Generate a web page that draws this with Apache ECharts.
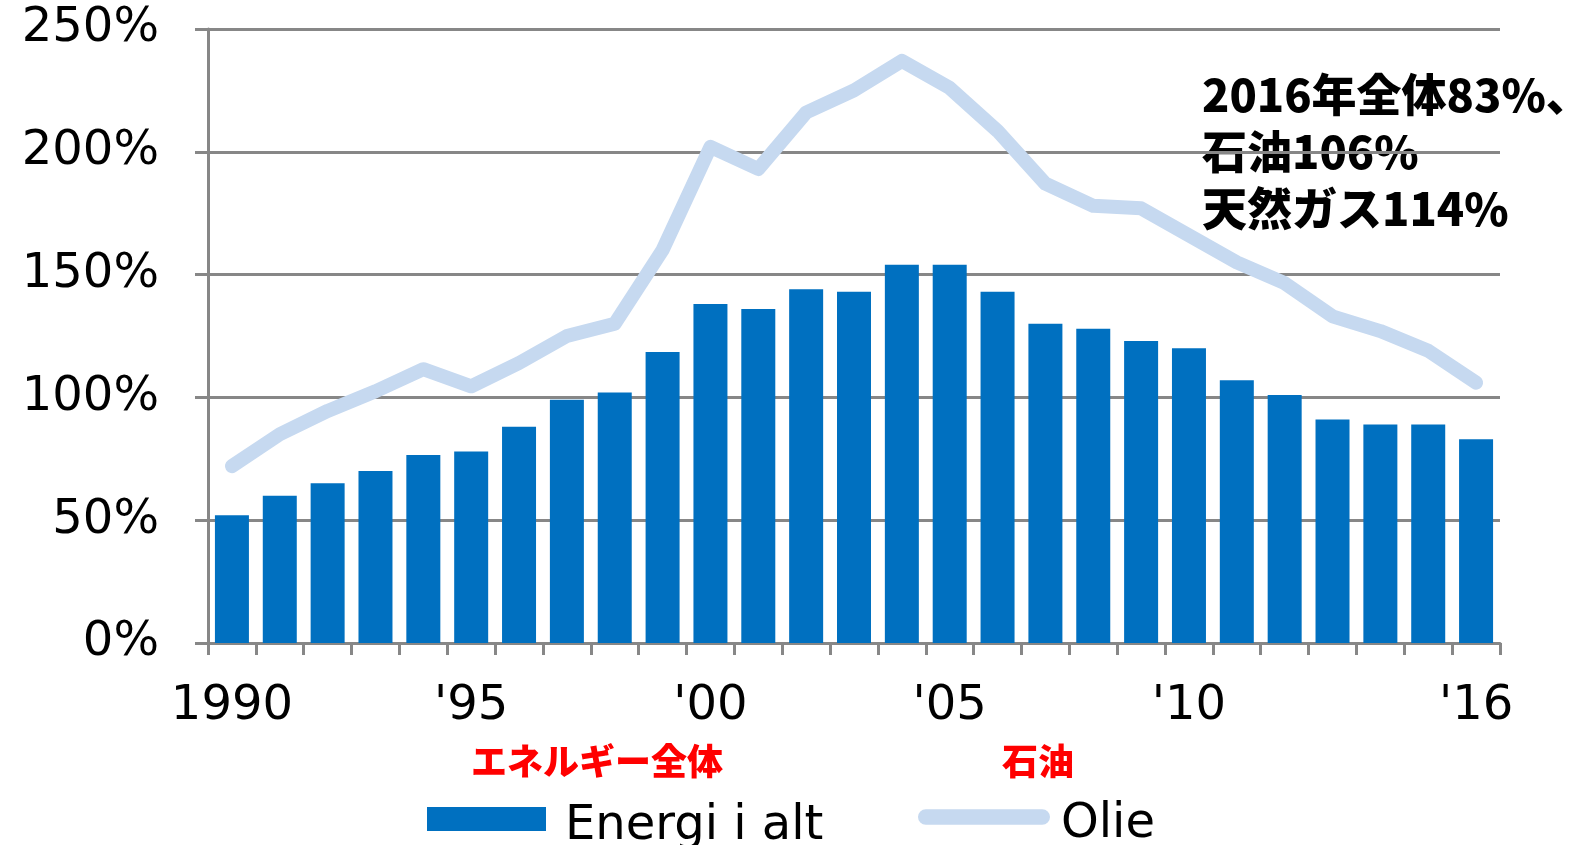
<!DOCTYPE html>
<html>
<head>
<meta charset="utf-8">
<script src="https://cdn.jsdelivr.net/npm/echarts@6/dist/echarts.min.js"></script>
<style>
html,body{margin:0;padding:0;background:#fff;}
#chart{width:1575px;height:845px;}
</style>
</head>
<body>
<div id="chart"></div>
<script>
// ---- data ----
const years = ['1990','1991','1992','1993','1994','1995','1996','1997','1998','1999','2000','2001','2002','2003','2004','2005','2006','2007','2008','2009','2010','2011','2012','2013','2014','2015','2016'];
const energyTotal = [52,60,65,70,76.5,78,88,99,102,118.5,138,136,144,143,154,154,143,130,128,123,120,107,101,91,89,89,83];
const oil = [72,85,94.5,102.5,111.5,104.5,114,125,130,160,202,193,216,225,237,226,208.5,187,178,177,166,155,146.5,133,127,119,106];
const shownTickYears = ['1990','1995','2000','2005','2010','2016'];
const shownTickLabels = ['1990',"'95","'00","'05","'10","'16"];
const yTicks = [0,50,100,150,200,250];
const seriesNames = ['Energi i alt','Olie'];
const jpLegendLabels = ['エネルギー全体','石油'];
const noteLines = ['2016年全体83%、','石油106%','天然ガス114%'];

const LATIN = 'DejaVu Sans';
const CJK = '"Noto Sans CJK JP"';
const GRAY = '#878787';

const chart = echarts.init(document.getElementById('chart'), null, {renderer:'canvas'});
chart.setOption({
  animation:false,
  backgroundColor:'#ffffff',
  grid:{left:208, right:75, top:29, bottom:202, containLabel:false},
  xAxis:{
    type:'category',
    data:years,
    boundaryGap:true,
    axisLine:{show:true, lineStyle:{color:GRAY, width:3}},
    axisTick:{show:true, interval:0, length:12, lineStyle:{color:GRAY, width:3}},
    axisLabel:{
      interval:(i,v)=>shownTickYears.indexOf(v)>=0,
      formatter:v=>shownTickLabels[shownTickYears.indexOf(v)],
      fontFamily:LATIN, fontSize:48, color:'#000', margin:40
    },
    splitLine:{show:false}
  },
  yAxis:{
    type:'value',
    min:yTicks[0], max:yTicks[yTicks.length-1], interval:50,
    axisLine:{show:true, lineStyle:{color:GRAY, width:3}},
    axisTick:{show:true, length:13, lineStyle:{color:GRAY, width:3}},
    axisLabel:{formatter:'{value}%', fontFamily:LATIN, fontSize:48, color:'#000', margin:49},
    splitLine:{show:true, lineStyle:{color:GRAY, width:3}}
  },
  legend:[
    {
      data:[{name:seriesNames[0], icon:'rect'}],
      left:427, top:803, padding:0,
      itemWidth:119, itemHeight:24,
      formatter:'{t|{name}}',
      textStyle:{rich:{t:{fontFamily:LATIN, fontSize:48, color:'#000', padding:[16,0,0,14]}}},
      selectedMode:false
    },
    {
      data:[{name:seriesNames[1], icon:'path://M8,0 L127,0 A8,8 0 0 1 127,16 L8,16 A8,8 0 0 1 8,0 Z', itemStyle:{color:'#C6D9F0'}}],
      left:918, top:801, padding:0,
      itemWidth:132, itemHeight:16,
      formatter:'{t|{name}}',
      textStyle:{rich:{t:{fontFamily:LATIN, fontSize:48, color:'#000', padding:[16,0,0,6]}}},
      selectedMode:false
    }
  ],
  series:[
    {
      name:seriesNames[0], type:'bar', data:energyTotal,
      barWidth:34,
      itemStyle:{color:'#0070C0'},
      z:2
    },
    {
      name:seriesNames[1], type:'line', data:oil,
      symbol:'none', smooth:false,
      lineStyle:{color:'#C6D9F0', width:14, cap:'round', join:'round'},
      itemStyle:{color:'#C6D9F0'},
      z:3
    }
  ],
  graphic:[
    {type:'text', left:1202, top:66, style:{text:noteLines.join('\n'), font:'900 45px '+CJK, fill:'#000', lineHeight:57}},
    {type:'text', x:597, y:761, style:{text:jpLegendLabels[0], font:'900 36px '+CJK, fill:'#FF0000', align:'center', verticalAlign:'middle'}},
    {type:'text', x:1038, y:761, style:{text:jpLegendLabels[1], font:'900 36px '+CJK, fill:'#FF0000', align:'center', verticalAlign:'middle'}}
  ]
});
</script>
</body>
</html>
